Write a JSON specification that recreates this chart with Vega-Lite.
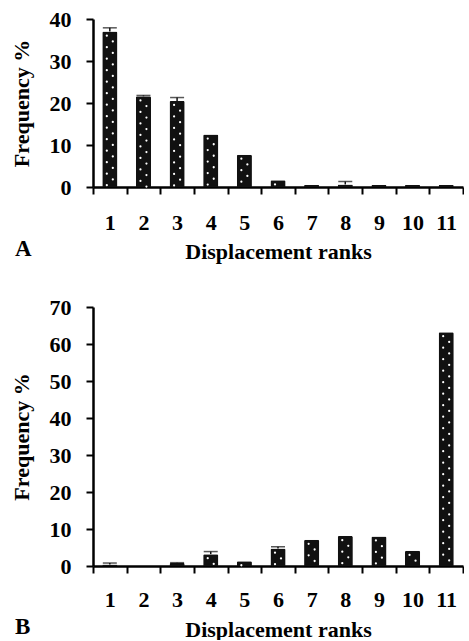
{
  "$schema": "https://vega.github.io/schema/vega-lite/v6.json",
  "padding": {"top": 8, "left": 10, "right": 0, "bottom": 0},
  "background": "white",
  "spacing": 34,
  "config": {
    "view": {"stroke": null},
    "font": "Liberation Serif",
    "axis": {
      "grid": false,
      "domain": true,
      "ticks": true,
      "zindex": 1,
      "domainColor": "#000000",
      "domainWidth": 2.5,
      "domainOpacity": 1,
      "tickColor": "#000000",
      "tickWidth": 2,
      "tickOpacity": 1,
      "tickSize": 7,
      "labelOverlap": false,
      "labelFont": "Liberation Serif",
      "labelFontWeight": "bold",
      "labelFontSize": 22,
      "labelColor": "black",
      "titleFont": "Liberation Serif",
      "titleFontWeight": "bold",
      "titleFontSize": 22,
      "titleColor": "black"
    },
    "title": {"font": "Liberation Serif", "fontWeight": "bold", "fontSize": 23, "color": "black"}
  },
  "datasets": {
    "A": [
      {"rank": "1", "v": 37.0, "hi": 37.9},
      {"rank": "2", "v": 21.6, "hi": 21.8},
      {"rank": "3", "v": 20.5, "hi": 21.3},
      {"rank": "4", "v": 12.5},
      {"rank": "5", "v": 7.7},
      {"rank": "6", "v": 1.6},
      {"rank": "7", "v": 0.5},
      {"rank": "8", "v": 0.6, "hi": 1.3},
      {"rank": "9", "v": 0.5},
      {"rank": "10", "v": 0.5},
      {"rank": "11", "v": 0.5}
    ],
    "B": [
      {"rank": "1", "v": 0.4, "hi": 0.8},
      {"rank": "2", "v": 0},
      {"rank": "3", "v": 0.8, "hi": 0.9},
      {"rank": "4", "v": 3.2, "hi": 3.9},
      {"rank": "5", "v": 1.3},
      {"rank": "6", "v": 4.7, "hi": 5.2},
      {"rank": "7", "v": 7.1},
      {"rank": "8", "v": 8.1},
      {"rank": "9", "v": 8.0},
      {"rank": "10", "v": 4.1},
      {"rank": "11", "v": 63.2}
    ]
  },
  "vconcat": [
    {
      "width": 370,
      "height": 168,
      "data": {"name": "A"},
      "title": {"text": "A", "orient": "bottom", "anchor": "start", "frame": "group", "dx": -78, "offset": -24},
      "encoding": {
        "x": {
          "field": "rank", "type": "ordinal", "sort": null,
          "scale": {"paddingInner": 0, "paddingOuter": 0},
          "axis": {"title": "Displacement ranks", "labelAngle": 0, "tickBand": "extent", "labelPadding": 18, "titlePadding": 8}
        },
        "y": {"field": "v", "type": "quantitative", "scale": {"domain": [0, 40]}, "axis": {"title": "Frequency %", "values": [0, 10, 20, 30, 40], "tickCount": 5, "labelOverlap": false, "labelPadding": 15, "titlePadding": 16}}
      },
      "layer": [
        {
          "mark": {"type": "bar", "color": "#111111", "width": {"band": 0.45}, "cornerRadiusTopLeft": 1.5, "cornerRadiusTopRight": 1.5}
        },
        {
          "mark": {"type": "rule", "color": "white", "strokeWidth": 2.2, "strokeCap": "round", "strokeDash": [0.1, 11.4], "strokeDashOffset": -4, "xOffset": -3},
          "encoding": {"y2": {"datum": 0}}
        },
        {
          "mark": {"type": "rule", "color": "white", "strokeWidth": 2.2, "strokeCap": "round", "strokeDash": [0.1, 11.4], "strokeDashOffset": -9.7, "xOffset": 3},
          "encoding": {"y2": {"datum": 0}}
        },
        {
          "transform": [{"filter": "isValid(datum.hi)"}],
          "mark": {"type": "rule", "color": "#111111", "strokeWidth": 1.5},
          "encoding": {"y2": {"field": "hi"}}
        },
        {
          "transform": [{"filter": "isValid(datum.hi)"}],
          "mark": {"type": "tick", "color": "#111111", "size": 14, "thickness": 1.5},
          "encoding": {"y": {"field": "hi", "type": "quantitative"}}
        }
      ]
    },
    {
      "width": 370,
      "height": 259,
      "data": {"name": "B"},
      "title": {"text": "B", "orient": "bottom", "anchor": "start", "frame": "group", "dx": -78, "offset": -24},
      "encoding": {
        "x": {
          "field": "rank", "type": "ordinal", "sort": null,
          "scale": {"paddingInner": 0, "paddingOuter": 0},
          "axis": {"title": "Displacement ranks", "labelAngle": 0, "tickBand": "extent", "labelPadding": 16, "titlePadding": 9}
        },
        "y": {"field": "v", "type": "quantitative", "scale": {"domain": [0, 70]}, "axis": {"title": "Frequency %", "values": [0, 10, 20, 30, 40, 50, 60, 70], "tickCount": 8, "labelOverlap": false, "labelPadding": 15, "titlePadding": 16}}
      },
      "layer": [
        {
          "mark": {"type": "bar", "color": "#111111", "width": {"band": 0.45}, "cornerRadiusTopLeft": 1.5, "cornerRadiusTopRight": 1.5}
        },
        {
          "mark": {"type": "rule", "color": "white", "strokeWidth": 2.2, "strokeCap": "round", "strokeDash": [0.1, 11.4], "strokeDashOffset": -4, "xOffset": -3},
          "encoding": {"y2": {"datum": 0}}
        },
        {
          "mark": {"type": "rule", "color": "white", "strokeWidth": 2.2, "strokeCap": "round", "strokeDash": [0.1, 11.4], "strokeDashOffset": -9.7, "xOffset": 3},
          "encoding": {"y2": {"datum": 0}}
        },
        {
          "transform": [{"filter": "isValid(datum.hi)"}],
          "mark": {"type": "rule", "color": "#111111", "strokeWidth": 1.5},
          "encoding": {"y2": {"field": "hi"}}
        },
        {
          "transform": [{"filter": "isValid(datum.hi)"}],
          "mark": {"type": "tick", "color": "#111111", "size": 14, "thickness": 1.5},
          "encoding": {"y": {"field": "hi", "type": "quantitative"}}
        }
      ]
    }
  ]
}
